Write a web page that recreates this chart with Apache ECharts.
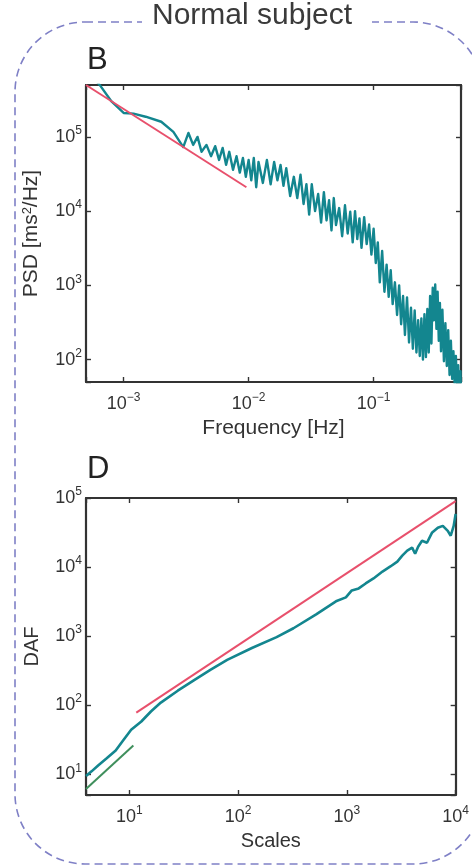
<!DOCTYPE html>
<html>
<head>
<meta charset="utf-8">
<script src="https://cdn.jsdelivr.net/npm/echarts@6/dist/echarts.min.js"></script>
<style>
  html, body { margin: 0; padding: 0; background: #fff; }
  #chart { width: 472px; height: 867px; }
</style>
</head>
<body>
<div id="chart"></div>
<script>
// panel B: power spectral density (Hz, ms^2/Hz)
const freqB = [5.0e-4, 6.5e-4, 8.0e-4, 1.0e-3, 1.2e-3, 1.5e-3, 2.0e-3, 2.5e-3, 3.0e-3, 3.3e-3,
  3.6e-3, 3.9e-3, 4.2e-3, 4.6e-3, 5.0e-3, 5.4e-3, 5.8e-3, 6.2e-3, 6.6e-3, 7.0e-3,
  7.5e-3, 8.0e-3, 8.5e-3, 9.0e-3, 9.5e-3, 0.010, 0.0105, 0.011, 0.0115, 0.012,
  0.013, 0.014, 0.015, 0.016, 0.017, 0.018, 0.019, 0.020, 0.0215, 0.023,
  0.0245, 0.026, 0.0275, 0.029, 0.0305, 0.032, 0.034, 0.036, 0.038, 0.040,
  0.042, 0.044, 0.046, 0.048, 0.050, 0.053, 0.056, 0.059, 0.062, 0.065,
  0.068, 0.071, 0.074, 0.077, 0.080, 0.084, 0.088, 0.092, 0.096, 0.100,
  0.104, 0.108, 0.112, 0.117, 0.122, 0.127, 0.132, 0.137, 0.142, 0.148,
  0.154, 0.160, 0.166, 0.172, 0.178, 0.185, 0.192, 0.199, 0.206, 0.213,
  0.220, 0.227, 0.234, 0.241, 0.248, 0.255, 0.262, 0.269, 0.276, 0.283,
  0.290, 0.297, 0.304, 0.311, 0.318, 0.325, 0.332, 0.339, 0.346, 0.355,
  0.365, 0.375, 0.385, 0.395, 0.405, 0.415, 0.425, 0.435, 0.445, 0.455,
  0.465, 0.475, 0.485, 0.495, 0.500]
const psdB = [8.2e5, 4.9e5, 3.0e5, 2.1e5, 2.06e5, 1.87e5, 1.6e5, 1.17e5, 7.3e4, 1.13e5,
  7.8e4, 1.0e5, 6.3e4, 7.8e4, 5.5e4, 7.5e4, 4.9e4, 7.1e4, 4.2e4, 6.3e4,
  3.6e4, 5.5e4, 3.3e4, 5.2e4, 2.9e4, 4.9e4, 2.6e4, 5.2e4, 2.1e4, 4.6e4,
  2.4e4, 4.9e4, 2.3e4, 4.6e4, 2.6e4, 4.2e4, 2.2e4, 3.8e4, 1.6e4, 2.9e4,
  1.5e4, 3.1e4, 1.25e4, 2.3e4, 9.0e3, 2.3e4, 1.0e4, 1.7e4, 7.0e3, 1.8e4,
  7.5e3, 1.4e4, 5.5e3, 1.5e4, 6.5e3, 1.1e4, 4.6e3, 1.2e4, 5.0e3, 9.8e3,
  3.8e3, 1.0e4, 4.2e3, 8.0e3, 3.2e3, 8.3e3, 3.6e3, 6.6e3, 2.6e3, 5.8e3,
  2.0e3, 3.8e3, 1.1e3, 2.9e3, 820, 1.9e3, 700, 1.6e3, 560, 1.1e3,
  400, 1.0e3, 300, 720, 215, 690, 170, 500, 140, 460,
  125, 340, 112, 360, 100, 410, 108, 480, 125, 720,
  165, 930, 340, 1030, 260, 820, 180, 580, 130, 470,
  95, 310, 82, 250, 62, 180, 55, 130, 46, 112,
  37, 84, 32, 70, 34]
const fitFreqB = [5e-4, 0.0096]
const fitPsdB = [5e5, 2.1e4]

// panel D: DAF vs scales
const scalesD = [4, 4.5, 5.2, 6.2, 7.5, 8.8, 10.4, 12.9, 15.8, 19.5,
  27.9, 39.8, 55.6, 79.4, 134, 226, 323, 522, 794, 979,
  1110, 1285, 1489, 1758, 2125, 2512, 2910, 3230, 3590, 3980,
  4240, 4520, 4910, 5450, 6050, 6860, 7620, 8460, 9010, 9590, 10000]
const dafD = [9.4, 11.0, 13.5, 17, 22, 31, 44, 58, 81, 109,
  162, 233, 324, 452, 672, 968, 1300, 2070, 3190, 3640,
  4590, 4910, 5790, 6840, 8610, 10200, 12000, 14600, 17300, 19100,
  15600, 19700, 24000, 22500, 31300, 37000, 39500, 33500, 28400, 39500, 58900]
const fitLongScales = [11.6, 10000]
const fitLongDaf = [78, 9.0e4]
const fitShortScales = [4, 10.9]
const fitShortDaf = [6.1, 26]

const FONT = '"Liberation Sans", Arial, sans-serif'
const INK = '#333'
const TEAL = '#13868f'
const RED = '#e8506c'
const GREEN = '#3f8f5c'

const pairs = (xs, ys) => xs.map((x, i) => [x, ys[i]])

function powLabel (v) {
  const e = Math.log10(v)
  const r = Math.round(e)
  if (Math.abs(e - r) > 1e-6) return ''
  return '{b|10}{s|' + (r < 0 ? '\u2212' + (-r) : r) + '}'
}

const labelRich = {
  b: { fontSize: 18, lineHeight: 24, color: INK, fontFamily: FONT },
  s: { fontSize: 12, lineHeight: 12, verticalAlign: 'top', color: INK, fontFamily: FONT }
}

function logAxis (opts) {
  const main = !opts.mirror
  return {
    type: 'log',
    logBase: 10,
    gridIndex: opts.grid,
    position: opts.position,
    min: opts.min,
    max: opts.max,
    name: main ? opts.name : '',
    nameLocation: 'middle',
    nameGap: opts.nameGap,
    nameTextStyle: {
      color: INK, fontSize: opts.nameSize || 20, fontFamily: FONT,
      rich: { sup: { fontSize: 13, lineHeight: 12, verticalAlign: 'top', color: INK, fontFamily: FONT } }
    },
    splitLine: { show: false },
    axisLine: { show: true, onZero: false, lineStyle: { color: INK, width: 2.2 } },
    axisTick: { show: true, inside: true, length: 5, lineStyle: { color: INK, width: 1.4 } },
    axisLabel: {
      show: main,
      margin: opts.margin,
      formatter: powLabel,
      rich: labelRich,
      showMinLabel: true,
      showMaxLabel: true
    }
  }
}

const chart = echarts.init(document.getElementById('chart'), null, { renderer: 'canvas' })

chart.setOption({
  animation: false,
  backgroundColor: '#fff',
  grid: [
    { left: 86, top: 85, width: 375, height: 297 },
    { left: 86, top: 498, width: 375, height: 297 }
  ],
  xAxis: [
    logAxis({ grid: 0, position: 'bottom', min: 5e-4, max: 0.5, name: 'Frequency [Hz]', nameGap: 36, nameSize: 21, margin: 10 }),
    logAxis({ grid: 0, position: 'top', min: 5e-4, max: 0.5, mirror: true }),
    logAxis({ grid: 1, position: 'bottom', min: 4, max: 1e4, name: 'Scales', nameGap: 36, nameSize: 20, margin: 10 }),
    logAxis({ grid: 1, position: 'top', min: 4, max: 1e4, mirror: true })
  ],
  yAxis: [
    logAxis({ grid: 0, position: 'left', min: 50, max: 5e5, name: 'PSD [ms{sup|2}/Hz]', nameGap: 44, nameSize: 21, margin: 4 }),
    logAxis({ grid: 0, position: 'right', min: 50, max: 5e5, mirror: true }),
    logAxis({ grid: 1, position: 'left', min: 5, max: 1e5, name: 'DAF', nameGap: 44, nameSize: 20, margin: 4 }),
    logAxis({ grid: 1, position: 'right', min: 5, max: 1e5, mirror: true })
  ],
  series: [
    {
      type: 'line', xAxisIndex: 0, yAxisIndex: 0,
      data: pairs(freqB, psdB),
      showSymbol: false, clip: true,
      lineStyle: { color: TEAL, width: 2.4, join: 'round' }
    },
    {
      type: 'line', xAxisIndex: 0, yAxisIndex: 0,
      data: pairs(fitFreqB, fitPsdB),
      showSymbol: false, clip: true,
      lineStyle: { color: RED, width: 2 }
    },
    {
      type: 'line', xAxisIndex: 2, yAxisIndex: 2,
      data: pairs(scalesD, dafD),
      showSymbol: false, clip: true,
      lineStyle: { color: TEAL, width: 2.6 }
    },
    {
      type: 'line', xAxisIndex: 2, yAxisIndex: 2,
      data: pairs(fitLongScales, fitLongDaf),
      showSymbol: false, clip: true,
      lineStyle: { color: RED, width: 2 }
    },
    {
      type: 'line', xAxisIndex: 2, yAxisIndex: 2,
      data: pairs(fitShortScales, fitShortDaf),
      showSymbol: false, clip: true,
      lineStyle: { color: GREEN, width: 2 }
    }
  ],
  graphic: [
    {
      type: 'rect', silent: true,
      shape: { x: 15, y: 22, width: 468, height: 842, r: 70 },
      style: { fill: 'none', stroke: '#7f80c6', lineWidth: 1.6, lineDash: [8, 5] }
    },
    {
      type: 'rect', silent: true,
      shape: { x: 142, y: 8, width: 230, height: 30 },
      style: { fill: '#fff' }
    },
    {
      type: 'text', silent: true, left: 152, top: 1,
      style: { text: 'Normal subject', fontSize: 30, fontFamily: FONT, fill: '#3a3a3a' }
    },
    {
      type: 'text', silent: true, left: 87, top: 45,
      style: { text: 'B', fontSize: 31, fontFamily: FONT, fill: '#222' }
    },
    {
      type: 'text', silent: true, left: 87, top: 454,
      style: { text: 'D', fontSize: 31, fontFamily: FONT, fill: '#222' }
    }
  ]
})

window.addEventListener('resize', () => chart.resize())
</script>
</body>
</html>
